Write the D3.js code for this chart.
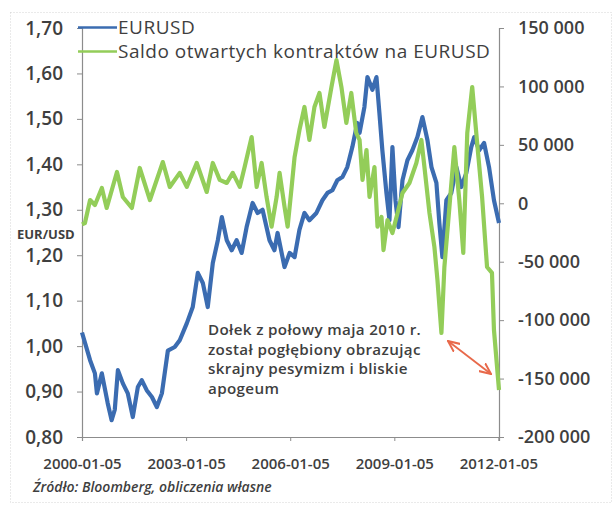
<!DOCTYPE html>
<html>
<head>
<meta charset="utf-8">
<script src="https://cdn.jsdelivr.net/npm/d3@7"></script>
<style>
  body { margin: 0; background: #fff; }
  text { font-family: "Open Sans", sans-serif; fill: #3f3f3f; }
</style>
</head>
<body>
<div id="chart"></div>
<script>
// EURUSD (left axis)
var eurDates = ["2000-01-05","2000-03-30","2000-05-20","2000-06-10","2000-08-01","2000-10-01","2000-11-12","2000-12-15",
  "2001-01-17","2001-03-10","2001-05-01","2001-06-23","2001-08-15","2001-09-25","2001-11-16","2002-01-10","2002-03-03",
  "2002-04-25","2002-06-27","2002-09-07","2002-10-30","2003-01-12","2003-03-16","2003-05-08","2003-06-30","2003-08-21",
  "2003-10-13","2003-12-05","2004-01-16","2004-03-08","2004-04-29","2004-06-20","2004-08-12","2004-10-03","2004-12-05",
  "2005-01-27","2005-03-20","2005-06-01","2005-07-23","2005-08-25","2005-11-06","2005-12-30","2006-02-20","2006-04-12",
  "2006-06-04","2006-07-26","2006-10-08","2006-12-10","2007-02-01","2007-03-25","2007-05-16","2007-07-08","2007-08-29",
  "2007-10-21","2007-12-12","2008-01-05","2008-02-25","2008-03-28","2008-05-19","2008-07-01","2008-08-01","2008-09-01",
  "2008-10-14","2008-11-15","2008-12-16","2009-01-17","2009-02-18","2009-04-01","2009-05-23","2009-07-14","2009-09-05",
  "2009-10-28","2009-12-20","2010-01-31","2010-03-24","2010-04-24","2010-05-26","2010-07-07","2010-08-28","2010-10-20",
  "2010-12-11","2011-02-02","2011-03-26","2011-04-26","2011-06-17","2011-08-08","2011-09-29","2011-11-20","2012-01-12"];
var eurValues = [1.03,0.969,0.94,0.896,0.94,0.875,0.837,0.86,
  0.947,0.918,0.896,0.844,0.91,0.925,0.903,0.888,0.866,
  0.896,0.99,0.998,1.013,1.05,1.086,1.161,1.139,1.086,
  1.183,1.233,1.284,1.233,1.211,1.233,1.205,1.262,1.315,
  1.293,1.30,1.233,1.211,1.249,1.174,1.205,1.196,1.256,
  1.293,1.277,1.293,1.321,1.337,1.343,1.365,1.372,1.394,
  1.438,1.491,1.469,1.526,1.592,1.564,1.592,1.513,1.431,
  1.337,1.277,1.438,1.321,1.262,1.365,1.409,1.431,1.46,
  1.504,1.453,1.394,1.359,1.271,1.196,1.321,1.337,1.394,
  1.35,1.381,1.438,1.46,1.431,1.447,1.394,1.321,1.271];

// net open contracts on EURUSD (right axis)
var cotDates = ["2000-01-05","2000-02-05","2000-03-30","2000-05-20","2000-08-01","2000-09-21","2001-01-07","2001-03-10",
  "2001-06-13","2001-09-04","2001-12-20","2002-05-05","2002-07-17","2002-10-30","2003-01-12","2003-04-27","2003-08-10",
  "2003-10-13","2003-12-25","2004-03-08","2004-05-10","2004-07-23","2004-09-12","2004-11-25","2005-01-17","2005-03-10",
  "2005-05-01","2005-06-23","2005-08-15","2005-09-15","2005-11-06","2005-12-09","2006-01-20","2006-02-20","2006-04-12",
  "2006-06-04","2006-07-26","2006-09-17","2006-11-09","2006-12-31","2007-03-15","2007-05-07","2007-06-28","2007-08-19",
  "2007-10-10","2007-12-01","2008-01-05","2008-02-05","2008-03-18","2008-04-19","2008-06-10","2008-07-12","2008-08-23",
  "2008-09-13","2008-10-25","2008-12-16","2009-02-08","2009-04-01","2009-06-13","2009-08-25","2009-10-17","2009-11-18",
  "2010-01-10","2010-03-03","2010-04-04","2010-05-16","2010-06-16","2010-08-08","2010-09-29","2010-11-20","2011-01-01",
  "2011-02-12","2011-04-05","2011-05-27","2011-07-18","2011-09-08","2011-10-30","2011-11-20","2012-01-12"];
var cotValues = [-18000,-16900,2800,-1500,13100,-4000,26800,5400,
  -4000,30200,2800,35300,14000,26000,14000,34500,9700,
  34500,20000,17400,26000,14000,31000,56700,14000,34500,
  5400,-20000,5400,26000,-3000,-20000,14000,39600,62700,
  82400,54200,82400,94400,65300,99500,122600,99500,68700,
  94400,60200,54200,20000,45600,5400,31000,-20000,-11700,
  -40000,-14300,-25400,-8300,8800,17400,34500,54200,31000,
  -8300,-37400,-65600,-111000,-54500,-3200,48000,2800,-42500,
  60200,99500,51600,5400,-54500,-59600,-108400,-159800];

var xTicks = ["2000-01-05","2003-01-05","2006-01-05","2009-01-05","2012-01-05"];
var leftTicks = [0.8,0.9,1.0,1.1,1.2,1.3,1.4,1.5,1.6,1.7];
var rightTicks = [-200000,-150000,-100000,-50000,0,50000,100000,150000];
var seriesNames = ["EURUSD","Saldo otwartych kontraktów na EURUSD"];
var noteLines = ["Dołek z połowy maja 2010 r.","został pogłębiony obrazując","skrajny pesymizm i bliskie","apogeum"];

var W = 615, H = 506;
var plot = {x0: 82, x1: 499, y0: 28, y1: 437};
var blue = "#3b6cb1", green = "#93cd59", axisCol = "#8c8c8c";

var parse = d3.timeParse("%Y-%m-%d");
var pl = d3.formatLocale({decimal: ",", thousands: " ", grouping: [3], currency: ["", ""], minus: "-"});

var svg = d3.select("#chart").append("svg").attr("width", W).attr("height", H);

// faint dotted frame
svg.append("rect").attr("x", 10.5).attr("y", 12.5).attr("width", 601).attr("height", 490)
  .attr("fill", "none").attr("stroke", "#d4d4d4").attr("stroke-dasharray", "1,2");

var x = d3.scaleTime().domain([parse("2000-01-05"), parse("2012-01-12")]).range([plot.x0, plot.x1]);
var yL = d3.scaleLinear().domain([0.8, 1.7]).range([plot.y1, plot.y0]);
var yR = d3.scaleLinear().domain([-200000, 150000]).range([plot.y1, plot.y0]);

var eur = eurDates.map(function(d, i) { return {date: parse(d), v: eurValues[i]}; });
var cot = cotDates.map(function(d, i) { return {date: parse(d), v: cotValues[i]}; });

// axes
var gL = svg.append("g").attr("transform", "translate(" + plot.x0 + ",0)")
  .call(d3.axisLeft(yL).tickValues(leftTicks).tickSize(5).tickPadding(14).tickFormat(pl.format(".2f")));
var gR = svg.append("g").attr("transform", "translate(" + plot.x1 + ",0)")
  .call(d3.axisRight(yR).tickValues(rightTicks).tickSize(5).tickPadding(14).tickFormat(pl.format(",")));
var gB = svg.append("g").attr("transform", "translate(0," + plot.y1 + ")")
  .call(d3.axisBottom(x).tickValues(xTicks.map(parse)).tickSize(4).tickPadding(17).tickFormat(d3.timeFormat("%Y-%m-%d")));

[gL, gR, gB].forEach(function(g) {
  g.select(".domain").attr("stroke", axisCol).attr("stroke-width", 1.2);
  g.selectAll(".tick line").attr("stroke", axisCol);
});
gL.selectAll("text").attr("font-size", 19).attr("font-weight", 600).attr("fill", "#3f3f3f").attr("font-family", "Open Sans");
gR.selectAll("text").attr("font-size", 18).attr("font-weight", 600).attr("fill", "#3f3f3f").attr("font-family", "Open Sans");
gB.selectAll("text").attr("font-size", 15).attr("font-weight", 600).attr("fill", "#3f3f3f").attr("font-family", "Open Sans");

// lines
var lineL = d3.line().x(function(d) { return x(d.date); }).y(function(d) { return yL(d.v); });
var lineR = d3.line().x(function(d) { return x(d.date); }).y(function(d) { return yR(d.v); });

svg.append("path").datum(eur).attr("d", lineL).attr("fill", "none")
  .attr("stroke", blue).attr("stroke-width", 4.2).attr("stroke-linejoin", "round");
svg.append("path").datum(cot).attr("d", lineR).attr("fill", "none")
  .attr("stroke", green).attr("stroke-width", 4.2).attr("stroke-linejoin", "round");

// legend
var legend = svg.append("g");
[blue, green].forEach(function(c, i) {
  legend.append("line").attr("x1", plot.x0 - 4).attr("x2", 117).attr("y1", 27.5 + i * 24).attr("y2", 27.5 + i * 24)
    .attr("stroke", c).attr("stroke-width", 2.5);
  legend.append("text").attr("x", 118).attr("y", 34 + i * 24).attr("font-size", 19)
    .attr("letter-spacing", 0.5).text(seriesNames[i]);
});

svg.append("text").attr("x", 17).attr("y", 238.5).attr("font-size", 13).attr("font-weight", 700)
  .attr("fill", "#222").text("EUR/USD");

// annotation
noteLines.forEach(function(t, i) {
  svg.append("text").attr("x", 208).attr("y", 335 + i * 19.5)
    .attr("font-size", 15.2).attr("font-weight", 600).attr("letter-spacing", 0.35)
    .attr("fill", "#5a5a5a").text(t);
});

svg.append("defs").append("marker").attr("id", "ah").attr("viewBox", "0 0 10 10")
  .attr("refX", 9).attr("refY", 5).attr("markerWidth", 7).attr("markerHeight", 7).attr("orient", "auto-start-reverse")
  .append("path").attr("d", "M0,1 L9,5 L0,9").attr("fill", "none").attr("stroke", "#e8694a").attr("stroke-width", 1.6);
svg.append("line").attr("x1", 448).attr("y1", 341).attr("x2", 491).attr("y2", 374)
  .attr("stroke", "#e8694a").attr("stroke-width", 1.8)
  .attr("marker-start", "url(#ah)").attr("marker-end", "url(#ah)");

svg.append("text").attr("x", 33).attr("y", 492).attr("font-size", 14).attr("font-style", "italic")
  .attr("font-weight", 600).attr("fill", "#333").text("Źródło: Bloomberg, obliczenia własne");
</script>
</body>
</html>
